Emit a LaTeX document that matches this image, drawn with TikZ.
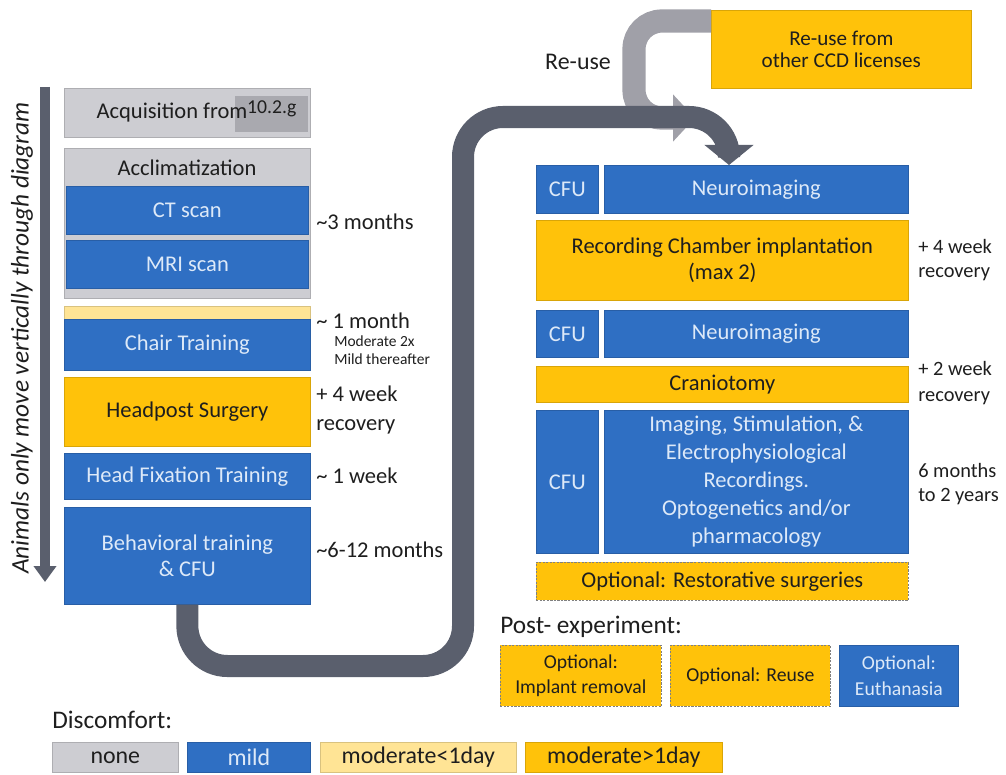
\documentclass[tikz,border=0pt]{standalone}
\usepackage{fontspec}
\setmainfont{Carlito}
\usetikzlibrary{arrows.meta,calc}
\definecolor{nonegray}{HTML}{CDCDD2}
\definecolor{taggray}{HTML}{A9A9AF}
\definecolor{mildblue}{HTML}{2F6FC3}
\definecolor{lowyellow}{HTML}{FFE495}
\definecolor{highgold}{HTML}{FFC20A}
\definecolor{paleblue}{HTML}{DDE9F8}
\definecolor{flowgray}{HTML}{5A5F6D}
\definecolor{reusegray}{HTML}{A0A0A8}
\definecolor{inkdark}{HTML}{1E1E1E}
\newcommand\stagefont{\fontsize{16}{20}\selectfont}
\newcommand\notefont{\fontsize{16}{21}\selectfont}
\tikzset{
  box/.style={inner sep=0pt, line width=0.5pt, align=center, font=\stagefont, anchor=north west},
  span/.style 2 args={minimum width={(#1)*0.025cm}, minimum height={(#2)*0.025cm}},
  nonebox/.style={box, fill=nonegray, draw=nonegray!85!black, text=inkdark},
  mildbox/.style={box, fill=mildblue, draw=mildblue!85!black, text=paleblue},
  lowbox/.style={box, fill=lowyellow, draw=lowyellow!85!black, text=inkdark},
  highbox/.style={box, fill=highgold, draw=highgold!85!black, text=inkdark},
  optbox/.style={highbox, draw=gray, dash pattern=on 1.5pt off 1pt},
  note/.style={anchor=west, align=left, inner sep=0pt, text=inkdark},
  flow/.style={line width=0.55cm, draw=flowgray, rounded corners=1cm,
    -{Triangle[width=1.2cm,length=0.5cm]}},
  reflow/.style={line width=0.58cm, draw=reusegray, rounded corners=0.7cm,
    -{Triangle[width=1.15cm,length=0.55cm]}}
}
\begin{document}
\begin{tikzpicture}[x=0.025cm,y=-0.025cm]
\useasboundingbox (0,0) rectangle (1006,775);
% left column
\node[nonebox, span={246}{49}] (acq) at (64,88) {};
\node[box, fill=taggray, span={73}{36}] (tag) at (235,96) {};
\node[font=\stagefont, text=inkdark] (acqtext) at (172,113) {Acquisition from};
\node[font=\fontsize{14}{16}\selectfont, text=inkdark, anchor=north] (tagtext) at (tag.north) {10.2.g};
\node[nonebox, span={246}{150}] (acclim) at (64,148) {};
\node[font=\stagefont, text=inkdark] (acclimtext) at (187,168) {Acclimatization};
\node[mildbox, span={242}{48}] (ct) at (66,186) {CT scan};
\node[mildbox, span={242}{48}] (mri) at (66,240) {MRI scan};
\node[lowbox, span={246}{13}] (chairlow) at (64,306) {};
\node[mildbox, span={246}{51}] (chair) at (64,319) {Chair Training};
\node[highbox, span={246}{69}] (headpost) at (64,377) {Headpost Surgery};
\node[mildbox, span={246}{46}] (fixation) at (64,453) {Head Fixation Training};
\node[mildbox, font=\fontsize{16}{18.5}\selectfont, span={246}{97}] (behav) at (64,507) {Behavioral training\\\& CFU};
% durations on the left
\node[note, font=\notefont] (tctmri) at (316,222) {\textasciitilde 3 months};
\node[note, font=\notefont] (tchair) at (316,321) {\textasciitilde{} 1 month};
\node[note, font=\fontsize{11}{13}\selectfont, anchor=north west] (tchairsub) at (334,335) {Moderate 2x\\Mild thereafter};
\node[note, font=\fontsize{16}{20.5}\selectfont] (thead) at (316,410) {+ 4 week\\recovery};
\node[note, font=\notefont] (tfix) at (316,476) {\textasciitilde{} 1 week};
\node[note, font=\notefont] (tbehav) at (316,550) {\textasciitilde 6-12 months};
% vertical guide
\coordinate (vtop) at (45,87);
\coordinate (vbot) at (45,582);
\draw[line width=0.25cm, draw=flowgray, -{Triangle[width=0.55cm,length=0.4cm]}] (vtop) -- (vbot);
\node[rotate=90, font=\itshape\fontsize{18}{22}\selectfont, text=inkdark] (vnote) at (22,338) {Animals only move vertically through diagram};
% right column
\node[highbox, font=\fontsize{15}{16}\selectfont, span={260}{78}] (reuse) at (711,10) {Re-use from\\other CCD licenses};
\node[font=\fontsize{17}{20}\selectfont, text=inkdark] (reusetext) at (578,62) {Re-use};
\foreach \n/\t/\h in {A/165/48, B/310/47, C/410/143}
  \node[mildbox, span={62}{\h}] (cfu\n) at (536,\t) {CFU};
\node[mildbox, span={304}{48}] (neuroA) at (604,165) {Neuroimaging};
\node[highbox, font=\fontsize{16}{18}\selectfont, span={372}{80}] (chamber) at (536,220) {Recording Chamber implantation\\(max 2)};
\node[mildbox, span={304}{47}] (neuroB) at (604,310) {Neuroimaging};
\node[highbox, span={372}{36}] (cranio) at (536,366) {Craniotomy};
\node[mildbox, span={304}{143}] (record) at (604,410) {Imaging, Stimulation, \&\\Electrophysiological\\Recordings.\\Optogenetics and/or\\pharmacology};
\node[optbox, span={372}{38}] (restore) at (536,562) {Optional: Restorative surgeries};
% durations on the right
\node[note, font=\fontsize{14.5}{17}\selectfont] (tchamber) at (918,260) {+ 4 week\\recovery};
\node[note, font=\fontsize{14.5}{18}\selectfont] (tcranio) at (918,383) {+ 2 week\\recovery};
\node[note, font=\fontsize{14.5}{17}\selectfont] (trecord) at (918,484) {6 months\\to 2 years};
% post-experiment
\node[note, font=\fontsize{18}{21}\selectfont] (post) at (500,627) {Post- experiment:};
\node[optbox, font=\fontsize{14}{18}\selectfont, span={161}{61}] (removal) at (500,645) {Optional:\\Implant removal};
\node[optbox, font=\fontsize{14}{18}\selectfont, span={160}{61}] (reusepost) at (670,645) {Optional: Reuse};
\node[mildbox, font=\fontsize{14}{18}\selectfont, span={119}{61}] (euthan) at (839,645) {Optional:\\Euthanasia};
% legend
\node[note, font=\fontsize{18}{21}\selectfont] (discomfort) at (52,720) {Discomfort:};
\foreach \n/\a/\w/\s/\t in {none/52/126/nonebox/none, mild/187/123/mildbox/mild,
    low/320/196/lowbox/moderate<1day, high/525/197/highbox/moderate>1day}
  \node[\s, font=\fontsize{17}{20}\selectfont, span={\w}{30}] (lg\n) at (\a,742) {\t};
% flow arrows
\coordinate (reuseturn) at (634,118);
\coordinate (reuseend) at (695,118);
\draw[reflow] ($(reuse.north west)+(0,11)$) -| (reuseturn) -- (reuseend);
\coordinate (loopR) at (463,666);
\coordinate (topL) at (463,117);
\coordinate (topR) at (729,117);
\draw[flow] (behav.south) -- (behav.south |- loopR) -- (loopR) -- (topL) -- (topR) -- (topR |- neuroA.north);
\end{tikzpicture}
\end{document}
